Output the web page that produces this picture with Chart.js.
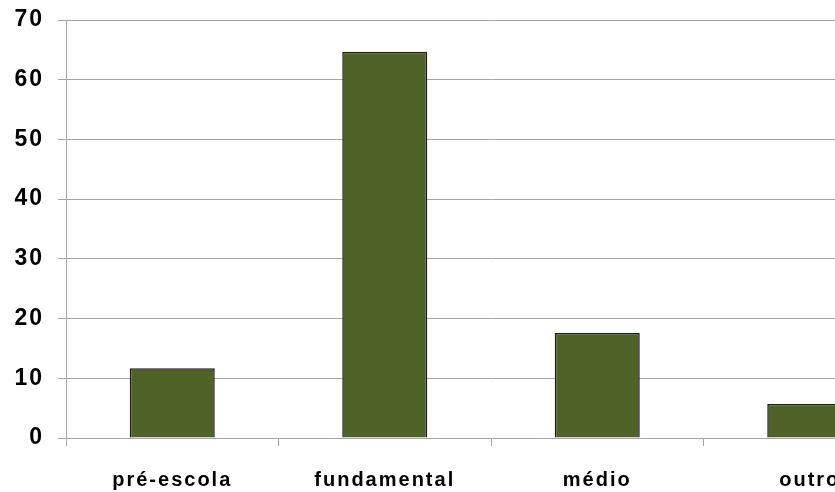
<!DOCTYPE html>
<html>
<head>
<meta charset="utf-8">
<script src="https://cdn.jsdelivr.net/npm/chart.js@4"></script>
<style>
  html, body { margin: 0; padding: 0; background: #fff; overflow: hidden; }
  #wrap { width: 916px; height: 492px; }
</style>
</head>
<body>
<div id="wrap"><canvas id="chart" width="916" height="492"></canvas></div>
<script>
"use strict";

// Data
const categories = ["pré-escola", "fundamental", "médio", "outro"];
const values = [11.7, 64.7, 17.6, 5.7];
const yTicks = [0, 10, 20, 30, 40, 50, 60, 70];

const gridColor = "#a6a6a6";

// spread the letters a bit, like the old spreadsheet render
const spacing = {
  id: "spacing",
  beforeLayout(chart) { chart.ctx.letterSpacing = "2px"; },
  beforeDraw(chart) { chart.ctx.letterSpacing = "2px"; },
};

new Chart(document.getElementById("chart"), {
  type: "bar",
  data: {
    labels: categories,
    datasets: [
      {
        data: values,
        backgroundColor: "#4f6228",
        borderColor: "#1a1a1a",
        borderWidth: 1.5,
        barPercentage: 0.4,
        categoryPercentage: 1,
      },
    ],
  },
  options: {
    responsive: false,
    animation: false,
    layout: { padding: { top: 20, left: 0, right: 0, bottom: 0 } },
    plugins: { legend: { display: false }, tooltip: { enabled: false } },
    scales: {
      x: {
        offset: true,
        grid: { drawOnChartArea: false, drawTicks: true, tickLength: 8, color: gridColor, offset: true },
        border: { color: gridColor },
        ticks: { color: "#000", padding: 22, font: { family: "Liberation Sans", size: 20, weight: "bold" } },
        afterFit(scale) {
          scale.height = 54;
          scale.paddingLeft = 0;
          scale.paddingRight = 0;
        },
      },
      y: {
        min: 0,
        max: 70,
        afterBuildTicks(scale) { scale.ticks = yTicks.map((v) => ({ value: v })); },
        grid: { color: gridColor, tickLength: 8 },
        border: { color: gridColor },
        ticks: { color: "#000", padding: 14, font: { family: "Liberation Sans", size: 23, weight: "bold" } },
        afterFit(scale) {
          scale.width = 66;
          scale.paddingTop = 0;
          scale.paddingBottom = 0;
        },
      },
    },
  },
  plugins: [spacing],
});
</script>
</body>
</html>
